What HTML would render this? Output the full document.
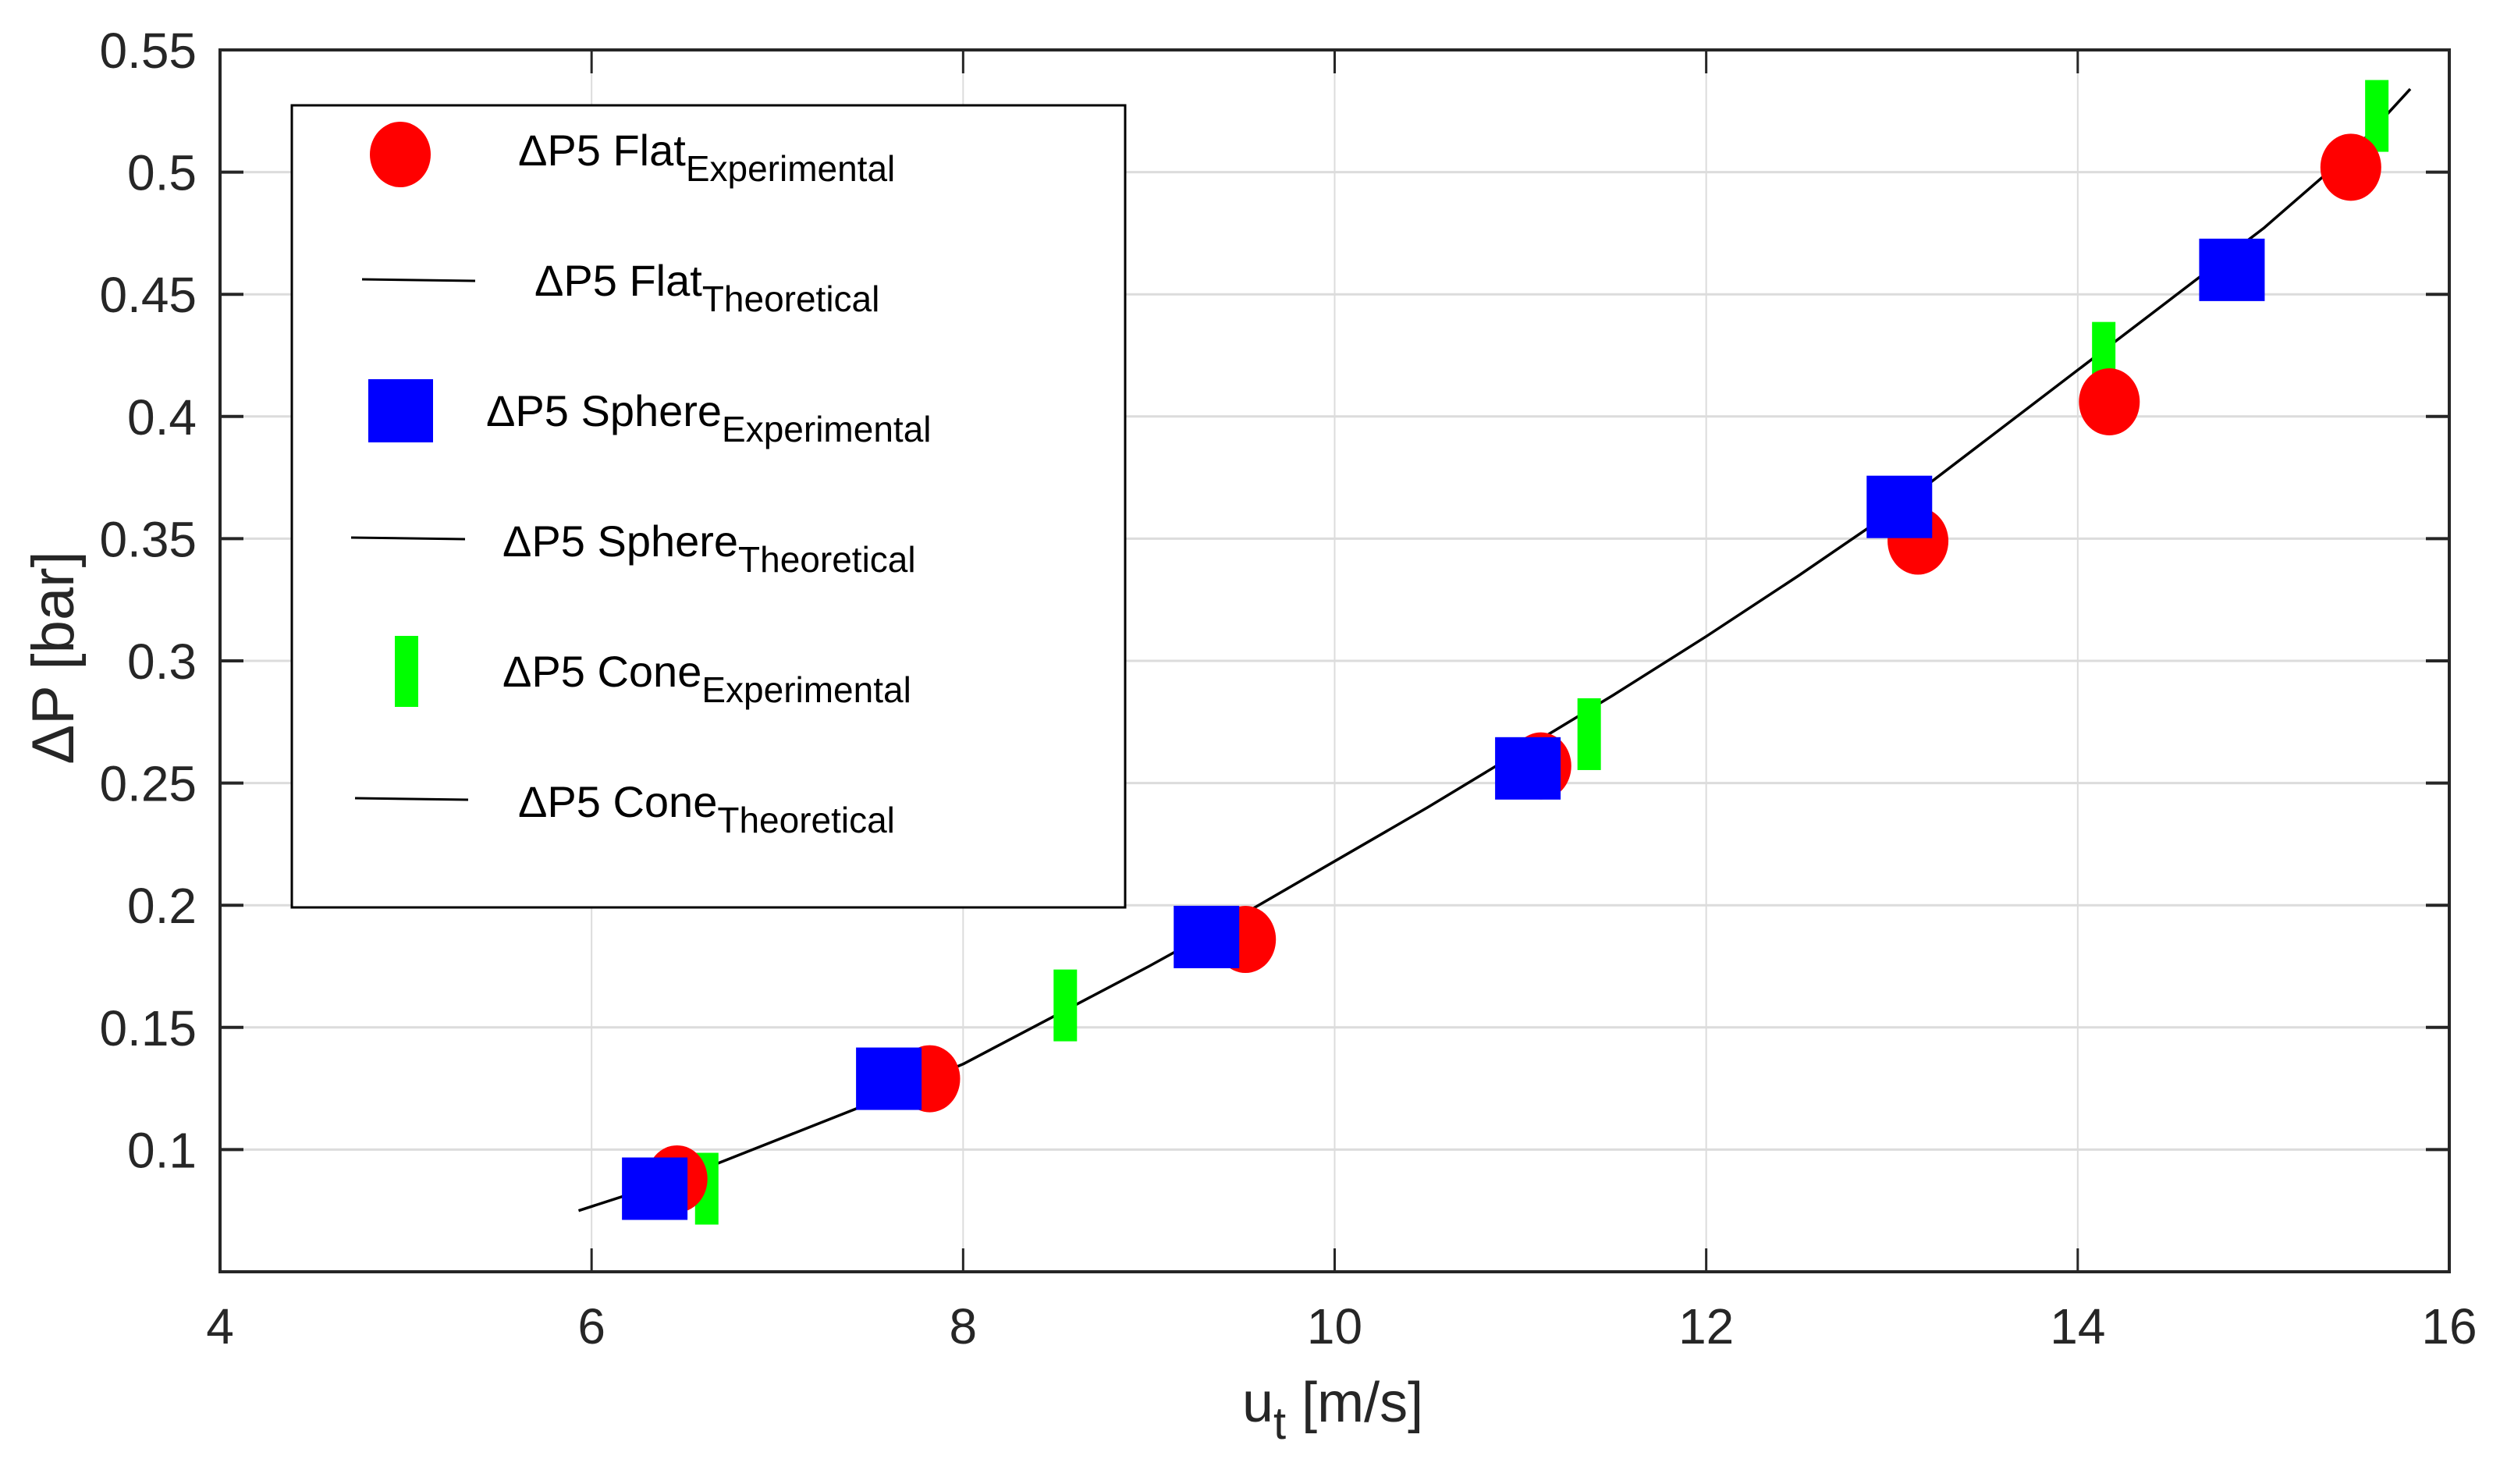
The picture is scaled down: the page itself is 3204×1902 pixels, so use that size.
<!DOCTYPE html>
<html><head><meta charset="utf-8"><style>
html,body{margin:0;padding:0;background:#fff;}
svg{display:block;font-family:"Liberation Sans",sans-serif;}
</style></head><body>
<svg id="chart" width="3204" height="1902" viewBox="0 0 3204 1902" xmlns="http://www.w3.org/2000/svg">
<g id="grid"></g>
<g id="curve"></g>
<g id="marks"></g>
<g id="axes"></g>
<g id="legend">
  <rect x="374" y="135" width="1068" height="1028" fill="#fff" stroke="#000" stroke-width="3"/>
  <ellipse cx="513" cy="198" rx="39" ry="42" fill="#ff0000"/>
  <text x="664" y="212" font-size="56" fill="#000">ΔP5 Flat<tspan font-size="46" dy="20">Experimental</tspan></text>
  <line x1="464" y1="358" x2="609" y2="360" stroke="#000" stroke-width="3"/>
  <text x="685" y="379" font-size="56" fill="#000">ΔP5 Flat<tspan font-size="46" dy="20">Theoretical</tspan></text>
  <rect x="472" y="486" width="83" height="81" fill="#0000ff"/>
  <text x="623" y="546" font-size="56" fill="#000">ΔP5 Sphere<tspan font-size="46" dy="20">Experimental</tspan></text>
  <line x1="450" y1="689" x2="596" y2="691" stroke="#000" stroke-width="3"/>
  <text x="644" y="713" font-size="56" fill="#000">ΔP5 Sphere<tspan font-size="46" dy="20">Theoretical</tspan></text>
  <rect x="506" y="815" width="30" height="91" fill="#00ff00"/>
  <text x="644" y="880" font-size="56" fill="#000">ΔP5 Cone<tspan font-size="46" dy="20">Experimental</tspan></text>
  <line x1="455" y1="1023" x2="600" y2="1025" stroke="#000" stroke-width="3"/>
  <text x="664" y="1047" font-size="56" fill="#000">ΔP5 Cone<tspan font-size="46" dy="20">Theoretical</tspan></text>
</g>
<text x="1592" y="1822" font-size="72" fill="#262626">u<tspan font-size="58" dy="22">t</tspan><tspan dy="-22"> [m/s]</tspan></text>
<text transform="translate(94,843) rotate(-90)" text-anchor="middle" font-size="76" fill="#262626">ΔP [bar]</text>
</svg>
<script>
const xTicks=[4,6,8,10,12,14,16];
const yTicks=[0.1,0.15,0.2,0.25,0.3,0.35,0.4,0.45,0.5,0.55];
const yTickLabels=["0.1","0.15","0.2","0.25","0.3","0.35","0.4","0.45","0.5","0.55"];
const flatX=[6.46,7.82,9.52,11.11,13.14,14.17,15.47];
const flatY=[0.088,0.129,0.186,0.257,0.349,0.406,0.502];
const sphereX=[6.34,7.6,9.31,11.04,13.04,14.83];
const sphereY=[0.084,0.129,0.187,0.256,0.363,0.46];
const coneX=[6.62,8.55,11.37,14.14,15.61];
const coneY=[0.084,0.159,0.27,0.424,0.523];
const theoX=[5.93,6.5,7,7.5,8,8.5,9,9.5,10,10.5,11,11.5,12,12.5,13,13.5,14,14.5,15,15.5,15.79];
const theoY=[0.075,0.089,0.104,0.119,0.135,0.155,0.175,0.196,0.218,0.240,0.263,0.286,0.31,0.335,0.361,0.39,0.419,0.448,0.477,0.51,0.534];
const L=282,R=3139,T=64,B=1630,X0=4,X1=16,Y0=0.05,Y1=0.55;
const sx=v=>L+(v-X0)/(X1-X0)*(R-L);
const sy=v=>B-(v-Y0)/(Y1-Y0)*(B-T);
const NS="http://www.w3.org/2000/svg";
function mk(tag,attrs,parent){const e=document.createElementNS(NS,tag);for(const k in attrs)e.setAttribute(k,attrs[k]);parent.appendChild(e);return e;}
const grid=document.getElementById('grid'),axes=document.getElementById('axes'),marks=document.getElementById('marks'),curve=document.getElementById('curve');
xTicks.forEach(v=>{
  const g=mk('line',{x1:sx(v),x2:sx(v),y1:T,y2:B,stroke:'#dcdcdc','stroke-width':2},grid);
  
  
  const t1=mk('line',{x1:sx(v),x2:sx(v),y1:B,y2:B-30,stroke:'#262626','stroke-width':3},axes);
  
  
  const t2=mk('line',{x1:sx(v),x2:sx(v),y1:T,y2:T+30,stroke:'#262626','stroke-width':3},axes);
  
  
  const lb=mk('text',{x:sx(v),y:B+92,'text-anchor':'middle','font-size':64,fill:'#262626'},axes);
  lb.textContent=String(v);
  
  
});
yTicks.forEach((v,i)=>{
  const g=mk('line',{x1:L,x2:R,y1:sy(v),y2:sy(v),stroke:'#dcdcdc','stroke-width':3},grid);
  
  
  const t1=mk('line',{x1:L,x2:L+30,y1:sy(v),y2:sy(v),stroke:'#262626','stroke-width':4},axes);
  
  
  const t2=mk('line',{x1:R,x2:R-30,y1:sy(v),y2:sy(v),stroke:'#262626','stroke-width':4},axes);
  
  
  const lb=mk('text',{x:L-30,y:sy(v)+23,'text-anchor':'end','font-size':64,fill:'#262626'},axes);
  lb.textContent=yTickLabels[i];
  
  
});
const box=mk('rect',{x:L,y:T,width:R-L,height:B-T,fill:'none',stroke:'#262626','stroke-width':4},axes);


const pts=theoX.map((x,i)=>sx(x)+','+sy(theoY[i])).join(' ');
const pl=mk('polyline',{points:pts,fill:'none',stroke:'#000','stroke-width':3.5,'stroke-linejoin':'round'},curve);


coneX.forEach((x,i)=>{
  const e=mk('rect',{x:sx(x)-15,y:sy(coneY[i])-46,width:30,height:92,fill:'#00ff00'},marks);
  
  
});
flatX.forEach((x,i)=>{
  const e=mk('ellipse',{cx:sx(x),cy:sy(flatY[i]),rx:39,ry:43,fill:'#ff0000'},marks);
  
  
});
sphereX.forEach((x,i)=>{
  const e=mk('rect',{x:sx(x)-42,y:sy(sphereY[i])-40,width:84,height:80,fill:'#0000ff'},marks);
  
  
});
</script>
</body></html>
